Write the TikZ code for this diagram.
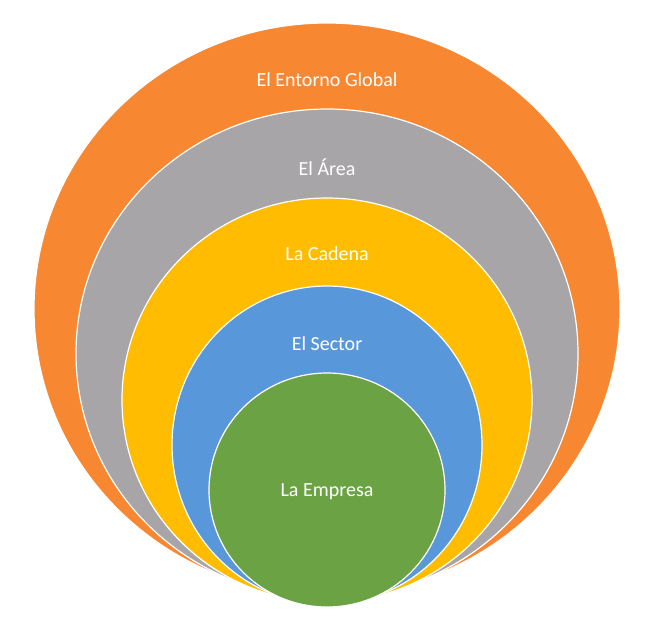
\documentclass[tikz,border=0pt]{standalone}
\usepackage{fontspec}
\setmainfont{Carlito}
\definecolor{cOr}{HTML}{F88731}
\definecolor{cGr}{HTML}{A7A5A8}
\definecolor{cYe}{HTML}{FFBC00}
\definecolor{cBl}{HTML}{5898DA}
\definecolor{cGn}{HTML}{6BA344}
\begin{document}
\begin{tikzpicture}[x=1pt,y=-1pt,
  ring/.style={draw=white,line width=1.2pt},
  lbl/.style={text=white,font=\fontsize{20}{24}\selectfont}]
\useasboundingbox (0,0) rectangle (650,626);
\fill[white] (0,0) rectangle (650,626);
\path[ring,fill=cOr] (327,309) ellipse [x radius=293,y radius=286];
\path[ring,fill=cGr] (327,353.5) ellipse [x radius=251,y radius=244.5];
\path[ring,fill=cYe] (327,400) ellipse [x radius=205,y radius=202];
\path[ring,fill=cBl] (327,445) ellipse [x radius=155,y radius=159];
\path[ring,fill=cGn] (327,490) ellipse [x radius=118,y radius=117];
\node[lbl] (t1) at (327,80) {El Entorno Global};
\node[lbl] (t2) at (327,167) {El Área};
\node[lbl] (t3) at (327,254) {La Cadena};
\node[lbl] (t4) at (327,344) {El Sector};
\node[lbl] (t5) at (327,492) {La Empresa};
\end{tikzpicture}
\end{document}
